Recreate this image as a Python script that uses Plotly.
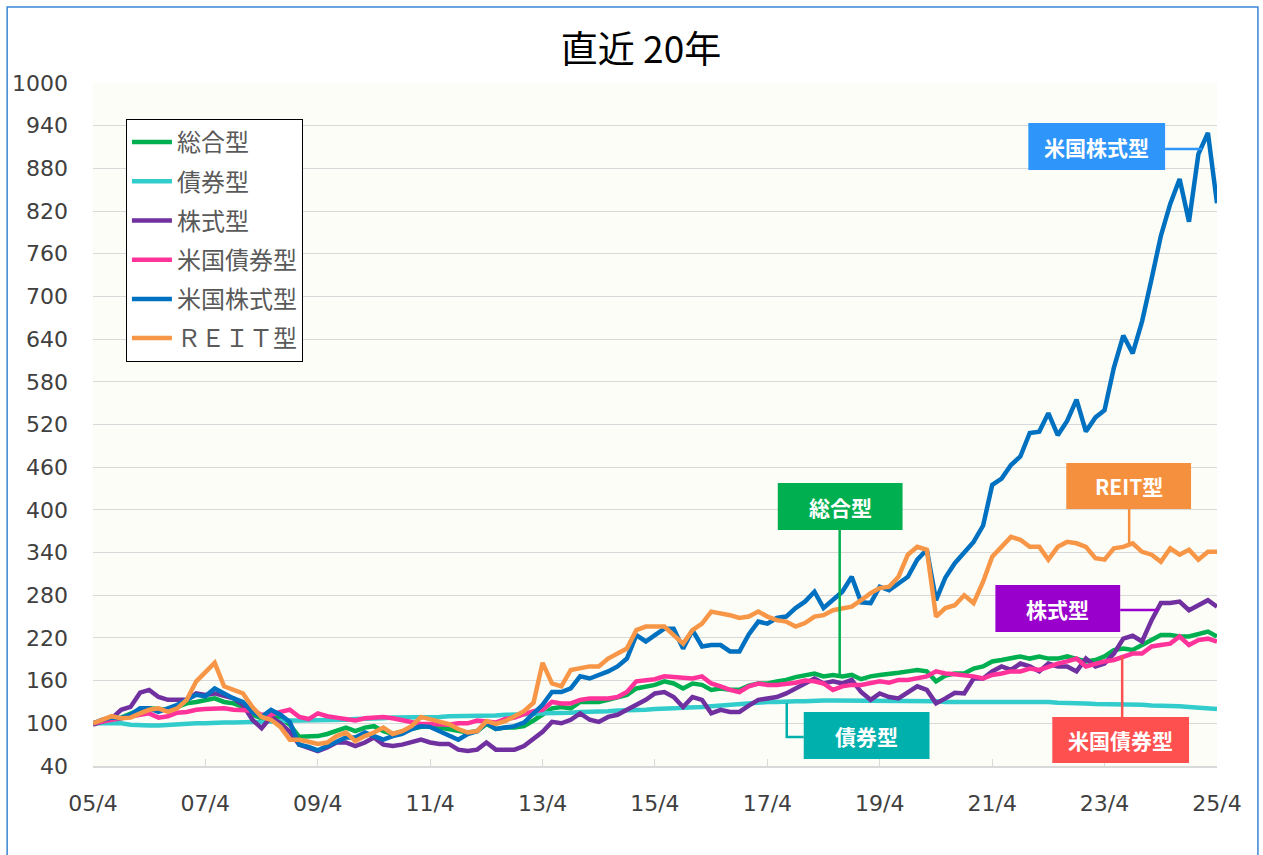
import plotly.graph_objects as go
import pandas as pd

# bimonthly points, 2005/4 .. 2025/4
dates = pd.date_range("2005-04-01", "2025-04-01", freq="2MS")

sogo = [100, 103, 107, 108, 113, 119, 121, 120, 119, 123, 128, 130, 133, 135, 130, 128, 123, 112, 107, 112, 107, 98, 81, 81, 82,
        85, 89, 94, 89, 94, 96, 89, 85, 89, 92, 95, 96, 94, 92, 89, 87, 89, 99, 92, 94, 94, 96, 104,
        112, 121, 123, 121, 130, 130, 130, 133, 137, 140, 149, 152, 154, 159, 156, 149, 156, 154, 147, 149, 147, 147, 153,
        156, 156, 159, 161, 165, 168, 170, 166, 168, 166, 168, 162, 166, 168, 169, 171, 173, 175, 173, 159, 167, 170,
        170, 177, 180, 187, 189, 191, 194, 191, 194, 191, 191, 194, 191, 187, 189, 194, 203, 205, 203, 210, 217, 224, 224, 222, 222, 226, 229, 222]

saiken = [100, 100, 100, 100, 98, 97, 97, 97, 98, 99, 100, 100, 100,
          101, 101, 101, 102, 102, 102, 103, 103, 104, 104, 104, 104,
          104, 105, 105, 106, 106, 107, 107, 108, 108, 108, 109, 109, 109, 110, 110, 110, 111, 111, 111, 112, 112, 112, 113,
          114, 114, 115, 115, 116, 116, 117, 117, 118, 118, 119, 119, 120, 120, 121, 122, 122, 123, 124, 125, 127, 128, 129,
          130, 130, 130, 131, 131, 131, 132, 132, 132, 132, 132, 132, 132, 132, 131, 131, 131, 131, 131, 131, 130, 130,
          130, 130, 131, 131, 131, 131, 131, 130, 130, 130, 129, 129, 128, 128, 127, 127, 126, 126, 127, 126, 125, 125, 124, 124, 123, 122, 121, 120]

kabu = [98, 102, 107, 119, 123, 143, 147, 137, 133, 133, 133, 142, 140, 142, 138, 135, 126, 105, 93, 109, 100, 88, 70, 65, 61,
        66, 73, 73, 68, 73, 80, 70, 68, 70, 73, 77, 73, 71, 71, 63, 61, 63, 73, 63, 63, 63, 68, 78,
        88, 102, 100, 105, 114, 105, 102, 109, 112, 119, 126, 133, 142, 144, 137, 123, 137, 133, 114, 119, 116, 116, 125,
        133, 135, 137, 142, 149, 156, 163, 156, 159, 156, 161, 144, 133, 142, 137, 135, 144, 152, 147, 128, 135, 143,
        142, 163, 163, 173, 180, 175, 184, 180, 173, 184, 180, 180, 173, 191, 180, 184, 198, 219, 223, 215, 245, 269, 269, 271, 259, 266, 273, 264]

us_saiken = [100, 103, 105, 107, 110, 112, 114, 108, 110, 115, 116, 119, 120, 121, 121, 119, 119, 118, 112, 112, 116, 119, 109, 106, 114,
             110, 108, 106, 104, 107, 108, 109, 107, 104, 101, 99, 99, 99, 98, 100, 100, 104, 103, 101, 106, 108, 113, 117,
             119, 130, 128, 128, 133, 135, 135, 135, 137, 144, 159, 161, 162, 166, 165, 163, 163, 166, 156, 152, 147, 144, 152,
             156, 154, 154, 155, 157, 160, 159, 156, 147, 152, 154, 154, 156, 159, 157, 161, 161, 163, 166, 173, 170, 169,
             168, 166, 163, 168, 170, 173, 173, 177, 175, 180, 184, 187, 191, 180, 184, 187, 189, 194, 198, 198, 208, 210, 212, 222, 210, 217, 219, 215]

us_kabu = [100, 105, 108, 107, 112, 121, 121, 116, 121, 126, 133, 140, 138, 149, 142, 135, 130, 116, 109, 119, 112, 102, 70, 67, 62,
           68, 73, 80, 80, 87, 82, 77, 82, 85, 92, 96, 95, 89, 82, 77, 85, 89, 101, 92, 94, 96, 101, 114,
           126, 144, 144, 149, 166, 163, 168, 173, 180, 191, 224, 215, 224, 233, 233, 205, 231, 208, 210, 210, 201, 201, 225,
           243, 240, 248, 250, 262, 271, 285, 262, 273, 285, 306, 270, 269, 292, 287, 297, 306, 330, 344, 273, 305, 325,
           340, 355, 378, 435, 444, 463, 475, 508, 510, 536, 505, 525, 555, 510, 530, 540, 600, 645, 620, 665, 725, 785, 830, 865, 805, 900, 930, 831]

reit = [100, 105, 110, 107, 108, 114, 119, 121, 116, 121, 133, 159, 172, 185, 152, 147, 142, 123, 109, 105, 95, 77, 77, 74, 71,
        73, 82, 87, 75, 82, 87, 94, 85, 89, 96, 109, 106, 103, 99, 92, 87, 89, 103, 99, 103, 110, 117, 129,
        185, 156, 152, 175, 177, 180, 180, 191, 198, 205, 231, 236, 236, 236, 224, 212, 231, 240, 257, 255, 252, 248, 250,
        257, 250, 245, 243, 236, 241, 250, 252, 259, 262, 264, 273, 283, 290, 292, 306, 337, 348, 344, 250, 262, 266,
        280, 269, 299, 334, 348, 362, 358, 348, 348, 330, 348, 355, 353, 348, 332, 330, 346, 348, 353, 341, 337, 327, 346, 337, 344, 330, 341, 341]

names = ["総合型", "債券型", "株式型", "米国債券型", "米国株式型", "ＲＥＩＴ型"]
series = [sogo, saiken, kabu, us_saiken, us_kabu, reit]
colors = ["#00b050", "#33cccc", "#7030a0", "#ff3399", "#0070c0", "#f79646"]

tick_dates = pd.date_range("2005-04-01", "2025-04-01", freq="24MS")
tick_text = ["05/4", "07/4", "09/4", "11/4", "13/4", "15/4", "17/4", "19/4", "21/4", "23/4", "25/4"]

# plot area in pixels: x 91..1217, y 83..766
def px(x):
    return (x - 91) / 1126


def py(y):
    return (766 - y) / 683


fig = go.Figure()
for name, vals, col in zip(names, series, colors):
    fig.add_trace(go.Scatter(x=dates, y=vals, mode="lines", name=name, legendgroup=name,
                             line=dict(color=col, width=4.5)))

jp = "Noto Sans CJK JP"
fig.update_layout(
    width=1263, height=855, autosize=False,
    margin=dict(l=91, r=46, t=83, b=89),
    paper_bgcolor="white",
    plot_bgcolor="#fdfdf7",
    font=dict(family=jp, color="#404040"),
    title=dict(text="直近 20年", x=641 / 1263, xref="container", xanchor="center",
               y=1 - 50 / 855, yref="container", yanchor="middle",
               font=dict(size=37, color="black", family=jp)),
    legend=dict(x=px(124), y=py(119), xanchor="left", yanchor="top",
                bgcolor="white", bordercolor="black", borderwidth=1,
                tracegroupgap=5, itemwidth=40,
                font=dict(size=24, color="#595959", family=jp)),
    showlegend=True,
)

fig.update_xaxes(
    type="date", range=["2005-04-01", "2025-04-01"],
    tickvals=tick_dates, ticktext=tick_text,
    showgrid=False, showline=True, linecolor="#d9d9d9", linewidth=1.5,
    ticks="inside", ticklen=7, tickcolor="#d9d9d9",
    tickfont=dict(family="DejaVu Sans", size=22, color="#404040"),
    ticklabelstandoff=17,
)
fig.update_yaxes(
    range=[40, 1000], dtick=60, tick0=40,
    showgrid=True, gridcolor="#d9d9d9", gridwidth=1.3,
    zeroline=False, showline=False,
    tickfont=dict(family="DejaVu Sans", size=22, color="#404040"),
    ticklabelstandoff=24,
)

# callout boxes: (text, box x0, y0, x1, y1 in px, fill, connector path points in px)
callouts = [
    ("米国株式型", (1028, 123, 1165, 170), "#2e95fa", [(1165, 149), (1202, 149)]),
    ("REIT型", (1066, 463, 1191, 509), "#f5913e", [(1129, 509), (1129, 544)]),
    ("総合型", (777, 483, 902, 530), "#00b050", [(839, 530), (839, 676)]),
    ("株式型", (995, 585, 1120, 632), "#9900cc", [(1120, 610), (1158, 610)]),
    ("債券型", (803, 712, 929, 759), "#00b0ad", [(803, 737), (786, 737), (786, 703)]),
    ("米国債券型", (1052, 717, 1189, 763), "#ff5050", [(1122, 717), (1122, 656)]),
]

shapes = []
annotations = []
for text, (x0, y0, x1, y1), col, pts in callouts:
    path = "M " + " L ".join(f"{px(a)},{py(b)}" for a, b in pts)
    shapes.append(dict(type="path", xref="paper", yref="paper", path=path,
                       line=dict(color=col, width=2.5)))
    shapes.append(dict(type="rect", xref="paper", yref="paper",
                       x0=px(x0), x1=px(x1), y0=py(y1), y1=py(y0),
                       fillcolor=col, line=dict(width=0), layer="above"))
    annotations.append(dict(x=px((x0 + x1) / 2), y=py((y0 + y1) / 2),
                            xref="paper", yref="paper", text=f"<b>{text}</b>",
                            showarrow=False, xanchor="center", yanchor="middle",
                            font=dict(size=21, color="white", family=jp)))

# outer frame
shapes.append(dict(type="rect", xref="paper", yref="paper",
                   x0=px(5), x1=px(1258), y0=py(880), y1=py(7),
                   line=dict(color="#3a86d4", width=1.5), layer="below"))

fig.update_layout(shapes=shapes, annotations=annotations)

fig.write_html("out.html", config={"displayModeBar": False},
               post_script="document.body.style.margin='0';")
